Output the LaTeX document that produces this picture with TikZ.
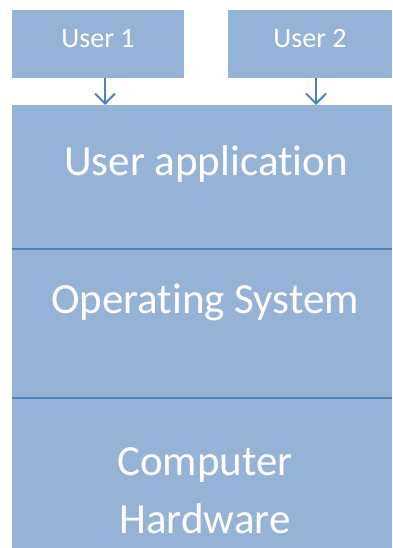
\documentclass[tikz,border=0pt]{standalone}
\usepackage{fontspec}
\setmainfont{Carlito}[Ligatures=NoCommon]
\usetikzlibrary{arrows.meta}
\definecolor{boxfill}{HTML}{95B3D7}
\definecolor{lineblue}{HTML}{4F81BD}
\tikzset{
  layer/.style={fill=boxfill, draw=none, inner sep=0pt, anchor=north west},
  label/.style={text=white, inner sep=0pt, anchor=base},
  usertext/.style={label, font=\fontsize{28bp}{34bp}\selectfont},
  bigtext/.style={label, font=\fontsize{43bp}{50bp}\selectfont},
  divider/.style={draw=lineblue, line width=2bp},
  usearrow/.style={draw=lineblue, line width=2bp, -{Straight Barb[length=10bp,width=20bp,line width=2bp]}}
}
\begin{document}
\begin{tikzpicture}[x=1bp,y=-1bp]
\useasboundingbox (0,0) rectangle (392,548);
\node[layer, minimum width=172bp, minimum height=68bp] (u1) at (12,10) {};
\node[layer, minimum width=164bp, minimum height=68bp] (u2) at (228,10) {};
\node[layer, minimum width=380bp, minimum height=144bp] (app) at (12,105) {};
\node[layer, minimum width=380bp, minimum height=149bp] (os) at (12,249) {};
\node[layer, minimum width=380bp, minimum height=150bp] (hw) at (12,398) {};
\node[usertext] (t1) at (98,47.7) {User 1};
\node[usertext] (t2) at (310,47.7) {User 2};
\node[bigtext] (tapp) at (206,175.3) {User application};
\node[bigtext] (tos) at (205,313.3) {Operating System};
\node[bigtext] (thw1) at (205,475.7) {Computer};
\node[bigtext] (thw2) at (205,533.3) {Hardware};
\draw[divider] (app.south west) -- (app.south east);
\draw[divider] (os.south west) -- (os.south east);
\coordinate (a1) at (105,105);
\coordinate (a2) at (316,105);
\coordinate (s1) at (105,78);
\coordinate (s2) at (316,78);
\draw[usearrow] (s1) -- (a1);
\draw[usearrow] (s2) -- (a2);
\end{tikzpicture}
\end{document}
